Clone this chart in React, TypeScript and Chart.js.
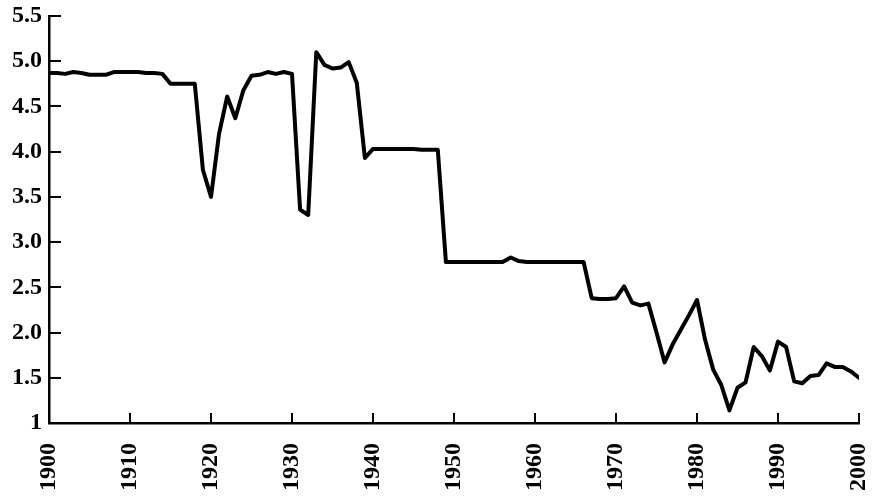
import React, { useEffect, useRef } from "react";
import { Chart, registerables } from "chart.js";

Chart.register(...registerables);

const years = [
  1900, 1901, 1902, 1903, 1904, 1905, 1906, 1907, 1908, 1909,
  1910, 1911, 1912, 1913, 1914, 1915, 1916, 1917, 1918, 1919,
  1920, 1921, 1922, 1923, 1924, 1925, 1926, 1927, 1928, 1929,
  1930, 1931, 1932, 1933, 1934, 1935, 1936, 1937, 1938, 1939,
  1940, 1941, 1942, 1943, 1944, 1945, 1946, 1947, 1948, 1949,
  1950, 1951, 1952, 1953, 1954, 1955, 1956, 1957, 1958, 1959,
  1960, 1961, 1962, 1963, 1964, 1965, 1966, 1967, 1968, 1969,
  1970, 1971, 1972, 1973, 1974, 1975, 1976, 1977, 1978, 1979,
  1980, 1981, 1982, 1983, 1984, 1985, 1986, 1987, 1988, 1989,
  1990, 1991, 1992, 1993, 1994, 1995, 1996, 1997, 1998, 1999,
  2000,
];

const values = [
  4.87, 4.87, 4.86, 4.88, 4.87, 4.85, 4.85, 4.85, 4.88, 4.88,
  4.88, 4.88, 4.87, 4.87, 4.86, 4.75, 4.75, 4.75, 4.75, 3.80,
  3.50, 4.20, 4.61, 4.37, 4.68, 4.84, 4.85, 4.88, 4.86, 4.88,
  4.86, 3.36, 3.30, 5.10, 4.96, 4.92, 4.93, 4.99, 4.76, 3.93,
  4.03, 4.03, 4.03, 4.03, 4.03, 4.03, 4.02, 4.02, 4.02, 2.78,
  2.78, 2.78, 2.78, 2.78, 2.78, 2.78, 2.78, 2.83, 2.79, 2.78,
  2.78, 2.78, 2.78, 2.78, 2.78, 2.78, 2.78, 2.38, 2.37, 2.37,
  2.38, 2.51, 2.33, 2.30, 2.32, 2.00, 1.67, 1.87, 2.03, 2.19,
  2.36, 1.92, 1.59, 1.42, 1.14, 1.39, 1.45, 1.84, 1.74, 1.58,
  1.90, 1.84, 1.46, 1.44, 1.52, 1.53, 1.66, 1.62, 1.62, 1.57,
  1.50,
];

const yTickValues = [1, 1.5, 2, 2.5, 3, 3.5, 4, 4.5, 5, 5.5];
const yTickLabels = ["1", "1.5", "2.0", "2.5", "3.0", "3.5", "4.0", "4.5", "5.0", "5.5"];
const xTickLabels = ["1900", "1910", "1920", "1930", "1940", "1950", "1960", "1970", "1980", "1990", "2000"];

const FONT = "'Liberation Serif', 'DejaVu Serif', serif";

const inwardTicks = {
  id: "inwardTicks",
  afterDraw(chart: any) {
    const { ctx, scales, chartArea } = chart;
    const x = scales.x;
    const y = scales.y;
    ctx.save();
    ctx.strokeStyle = "#000";
    ctx.lineWidth = 2;
    ctx.lineCap = "butt";
    x.ticks.forEach((t: any) => {
      const px = Math.round(x.getPixelForValue(t.value));
      ctx.beginPath();
      ctx.moveTo(px, chartArea.bottom);
      ctx.lineTo(px, chartArea.bottom - 10);
      ctx.stroke();
    });
    y.ticks.forEach((t: any) => {
      const py = Math.round(y.getPixelForValue(t.value));
      ctx.beginPath();
      ctx.moveTo(chartArea.left, py);
      ctx.lineTo(chartArea.left + 12, py);
      ctx.stroke();
    });
    ctx.restore();
  },
};

export default function App() {
  const canvasRef = useRef<HTMLCanvasElement | null>(null);

  useEffect(() => {
    if (!canvasRef.current) return;
    const chart = new Chart(canvasRef.current, {
      type: "line",
      data: {
        datasets: [
          {
            data: years.map((yr, i) => ({ x: yr, y: values[i] })),
            borderColor: "#000",
            borderWidth: 4,
            pointRadius: 0,
            tension: 0,
            borderJoinStyle: "round",
            borderCapStyle: "round",
            fill: false,
          },
        ],
      },
      options: {
        animation: false,
        responsive: true,
        maintainAspectRatio: false,
        layout: { padding: { top: 16, right: 21, left: 0, bottom: 0 } },
        plugins: { legend: { display: false }, tooltip: { enabled: false } },
        scales: {
          x: {
            type: "linear",
            min: 1900,
            max: 2000,
            afterBuildTicks: (scale: any) => {
              scale.ticks = xTickLabels.map((l) => ({ value: Number(l) }));
            },
            afterFit: (scale: any) => {
              scale.height = 80;
              scale.paddingLeft = 0;
              scale.paddingRight = 0;
            },
            grid: { display: false, drawTicks: false },
            border: { display: true, color: "#000", width: 2.5 },
            ticks: {
              minRotation: 90,
              maxRotation: 90,
              padding: 20,
              color: "#000",
              font: { family: FONT, size: 24, weight: "bold" },
              callback: (v: any) => {
                const i = xTickLabels.indexOf(String(v));
                return i >= 0 ? xTickLabels[i] : "";
              },
            },
          },
          y: {
            type: "linear",
            min: 1,
            max: 5.5,
            afterBuildTicks: (scale: any) => {
              scale.ticks = yTickValues.map((v) => ({ value: v }));
            },
            afterFit: (scale: any) => {
              scale.width = 49;
              scale.paddingTop = 0;
              scale.paddingBottom = 0;
            },
            grid: { display: false, drawTicks: false },
            border: { display: true, color: "#000", width: 2.5 },
            ticks: {
              padding: 7,
              color: "#000",
              font: { family: FONT, size: 24, weight: "bold" },
              callback: (v: any) => {
                const i = yTickValues.indexOf(Number(v));
                return i >= 0 ? yTickLabels[i] : "";
              },
            },
          },
        },
      },
      plugins: [inwardTicks],
    });
    return () => chart.destroy();
  }, []);

  return (
    <div style={{ position: "absolute", left: 0, top: 0, width: 880, height: 503, background: "#fff" }}>
      <canvas ref={canvasRef} />
    </div>
  );
}
